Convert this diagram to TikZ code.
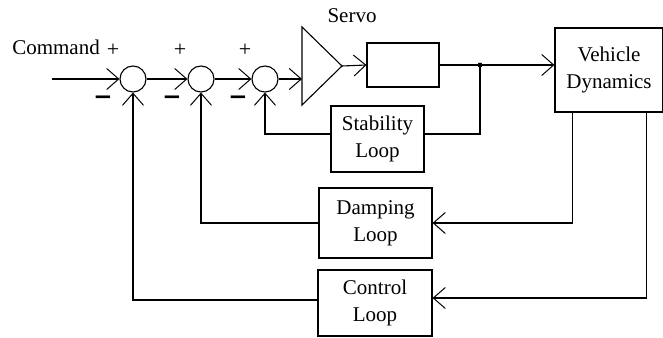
\documentclass[tikz,border=0pt]{standalone}
\usepackage{fontspec}
\setmainfont{Liberation Serif}
\newfontfamily\signfont{DejaVu Sans}
\usepackage{tikz}
\usetikzlibrary{shapes.geometric,arrows.meta,positioning,calc}
\tikzset{
  loopbox/.style={draw, line width=1.1pt, minimum height=66pt, align=center, inner sep=2pt},
  sumcircle/.style={draw, circle, line width=1.1pt, minimum size=26pt, inner sep=0pt},
  barbarrow/.style={-{Straight Barb[length=12pt,width=21pt,line width=1pt]}, line width=1.1pt},
  plainline/.style={line width=1.1pt},
  signlabel/.style={inner sep=0pt, font=\fontsize{22}{22}\selectfont},
  minuslabel/.style={inner sep=0pt, font=\signfont\bfseries\fontsize{23}{23}\selectfont},
}
\begin{document}
\begin{tikzpicture}[x=1pt, y=-1pt, font=\fontsize{21}{27}\selectfont]
  \useasboundingbox (0,0) rectangle (663,337);
  % summing junctions and forward path
  \node[sumcircle] (s1) at (133,79) {};
  \node[sumcircle] (s2) at (201,79) {};
  \node[sumcircle] (s3) at (265,79) {};
  \node[isosceles triangle, isosceles triangle stretches, draw, line width=1.1pt, minimum height=40pt, minimum width=78pt, inner sep=0pt, outer sep=0pt, anchor=apex] (amp) at (342,66) {};
  \node[loopbox, minimum width=72pt, minimum height=44pt] (srv) at (403,65) {};
  \node[inner sep=0pt] (srvlbl) at (352,16) {Servo};
  \node[loopbox, minimum width=108pt, minimum height=84pt] (vd) at (609,70) {Vehicle\\Dynamics};
  \node[loopbox, minimum width=93pt] (stab) at (377.5,139) {Stability\\Loop};
  \node[loopbox, minimum width=113pt, minimum height=70pt] (dmp) at (375.5,223) {Damping\\Loop};
  \node[loopbox, minimum width=114pt] (ctrl) at (375,303) {Control\\Loop};
  \coordinate (in) at (52,79);
  \coordinate (jn) at (480,65);
  \node[inner sep=0pt] (cmd) at (56,47) {Command};

  % signs
  \node[signlabel] (p1) at (113,50) {+};
  \node[signlabel] (p2) at (180,50) {+};
  \node[signlabel] (p3) at (245,50) {+};
  \node[minuslabel] (m1) at (103,100) {−};
  \node[minuslabel] (m2) at (172,100) {−};
  \node[minuslabel] (m3) at (238,100) {−};

  % forward path
  \draw[barbarrow] (in) -- (s1);
  \draw[barbarrow] (s1) -- (s2);
  \draw[barbarrow] (s2) -- (s3);
  \draw[barbarrow] (s3.east) -- (s3.east -| amp.lower side);
  \draw[barbarrow] (amp.apex) -- (srv.west);
  \draw[plainline] (srv.east) -- (jn);
  \draw[barbarrow] (jn) -- (vd.west |- jn);
  \fill (jn) circle (2.5pt);

  % feedback loops
  \draw[plainline] (jn) |- ([yshift=5pt]stab.east);
  \draw[barbarrow] ([yshift=5pt]stab.west) -| (s3.south);
  \draw[barbarrow] ([xshift=18pt]vd.south west) |- (dmp.east);
  \draw[barbarrow] (dmp.west) -| (s2.south);
  \draw[barbarrow] ([xshift=-17pt]vd.south east) |- ([yshift=5pt]ctrl.east);
  \draw[barbarrow] ([yshift=3pt]ctrl.west) -| (s1.south);
\end{tikzpicture}
\end{document}
